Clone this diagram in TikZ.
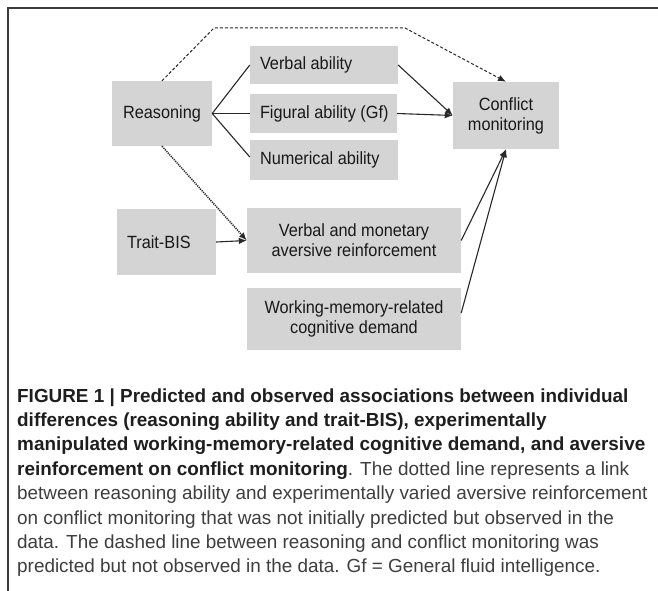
\documentclass[tikz,border=0pt]{standalone}
\usepackage{fontspec}
\setmainfont{Liberation Sans}
\newfontfamily\boxfont[FakeStretch=0.92]{Liberation Sans}
\usetikzlibrary{arrows.meta}
\definecolor{boxgray}{RGB}{212,212,212}
\definecolor{linegray}{RGB}{40,40,40}
\definecolor{txt}{RGB}{25,25,25}
\definecolor{capbold}{RGB}{30,30,30}
\definecolor{capreg}{RGB}{62,62,62}
\definecolor{framecol}{RGB}{60,60,60}
\begin{document}
\begin{tikzpicture}[x=1pt,y=-1pt,
  box/.style={fill=boxgray, inner sep=0pt, text=txt, font=\boxfont\fontsize{17.7}{20}\selectfont},
  lbox/.style={inner xsep=10pt},
  cbox/.style={align=center},
  conn/.style={draw=linegray, line width=1.1pt},
  arr/.style={conn, -{Latex[length=8pt,width=6.5pt]}},
  dashline/.style={dash pattern=on 3pt off 2pt, line width=1pt},
  dotline/.style={dash pattern=on 1.2pt off 1pt, line width=1.5pt},
  captext/.style={anchor=base west, inner sep=0pt, font=\fontsize{18.9}{22}\selectfont}
]
\useasboundingbox (0,0) rectangle (658,591);
\fill[white] (0,0) rectangle (658,591);
% frame
\draw[framecol, line width=1.3pt] (8,591) -- (8,8) -- (658,8);

% boxes
\node[box, minimum width=100pt, minimum height=65pt] (reason) at (162,113.5) {Reasoning};
\node[box, lbox, minimum height=38pt] (verbal) at (324,65) {\makebox[128pt][l]{Verbal ability}};
\node[box, lbox, minimum height=39pt] (figural) at (323.5,113.5) {\makebox[127pt][l]{Figural ability (Gf)}};
\node[box, lbox, minimum height=40pt] (numer) at (324,160) {\makebox[128pt][l]{Numerical ability}};
\node[box, cbox, minimum width=106pt, minimum height=67pt] (conflict) at (506,115.5) {Conflict\\monitoring};
\node[box, lbox, minimum height=66pt] (trait) at (166.5,242) {\makebox[79pt][l]{Trait-BIS}};
\node[box, cbox, minimum width=214pt, minimum height=65pt] (vm) at (354,240.5) {Verbal and monetary\\aversive reinforcement};
\node[box, cbox, minimum width=214pt, minimum height=62pt] (wm) at (354,319) {Working-memory-related\\cognitive demand};

% connectors
\draw[conn] (reason.east) -- (verbal.west);
\draw[conn] (reason.east) -- (figural.west);
\draw[conn] (reason.east) -- ([yshift=3pt]numer.west);
\draw[arr] (verbal.east) -- (conflict.west);
\draw[arr] (figural.east) -- (conflict.west);
\coordinate (d1) at (214,28);
\coordinate (d2) at (405,28);
\draw[arr, dashline] (reason.north) -- (d1) -- (d2) -- (conflict.north);
\draw[arr, dotline] (reason.south) -- (vm.west);
\draw[arr] (trait.east) -- (vm.west);
\draw[arr] (vm.east) -- (conflict.south);
\draw[arr] ([yshift=6pt]wm.east) -- (conflict.south);

% caption
\node[captext, text=capbold] (c1) at (17,402) {\bfseries FIGURE 1 | Predicted and observed associations between individual};
\node[captext, text=capbold] (c2) at (17,426.4) {\bfseries differences (reasoning ability and trait-BIS), experimentally};
\node[captext, text=capbold] (c3) at (17,450.8) {\bfseries manipulated working-memory-related cognitive demand, and aversive};
\node[captext, text=capreg] (c4) at (17,475.2) {\textcolor{capbold}{\bfseries reinforcement on conflict monitoring}. The dotted line represents a link};
\node[captext, text=capreg] (c5) at (17,499.6) {between reasoning ability and experimentally varied aversive reinforcement};
\node[captext, text=capreg] (c6) at (17,524) {on conflict monitoring that was not initially predicted but observed in the};
\node[captext, text=capreg] (c7) at (17,548.4) {data. The dashed line between reasoning and conflict monitoring was};
\node[captext, text=capreg] (c8) at (17,572.8) {predicted but not observed in the data. Gf = General fluid intelligence.};
\end{tikzpicture}
\end{document}
